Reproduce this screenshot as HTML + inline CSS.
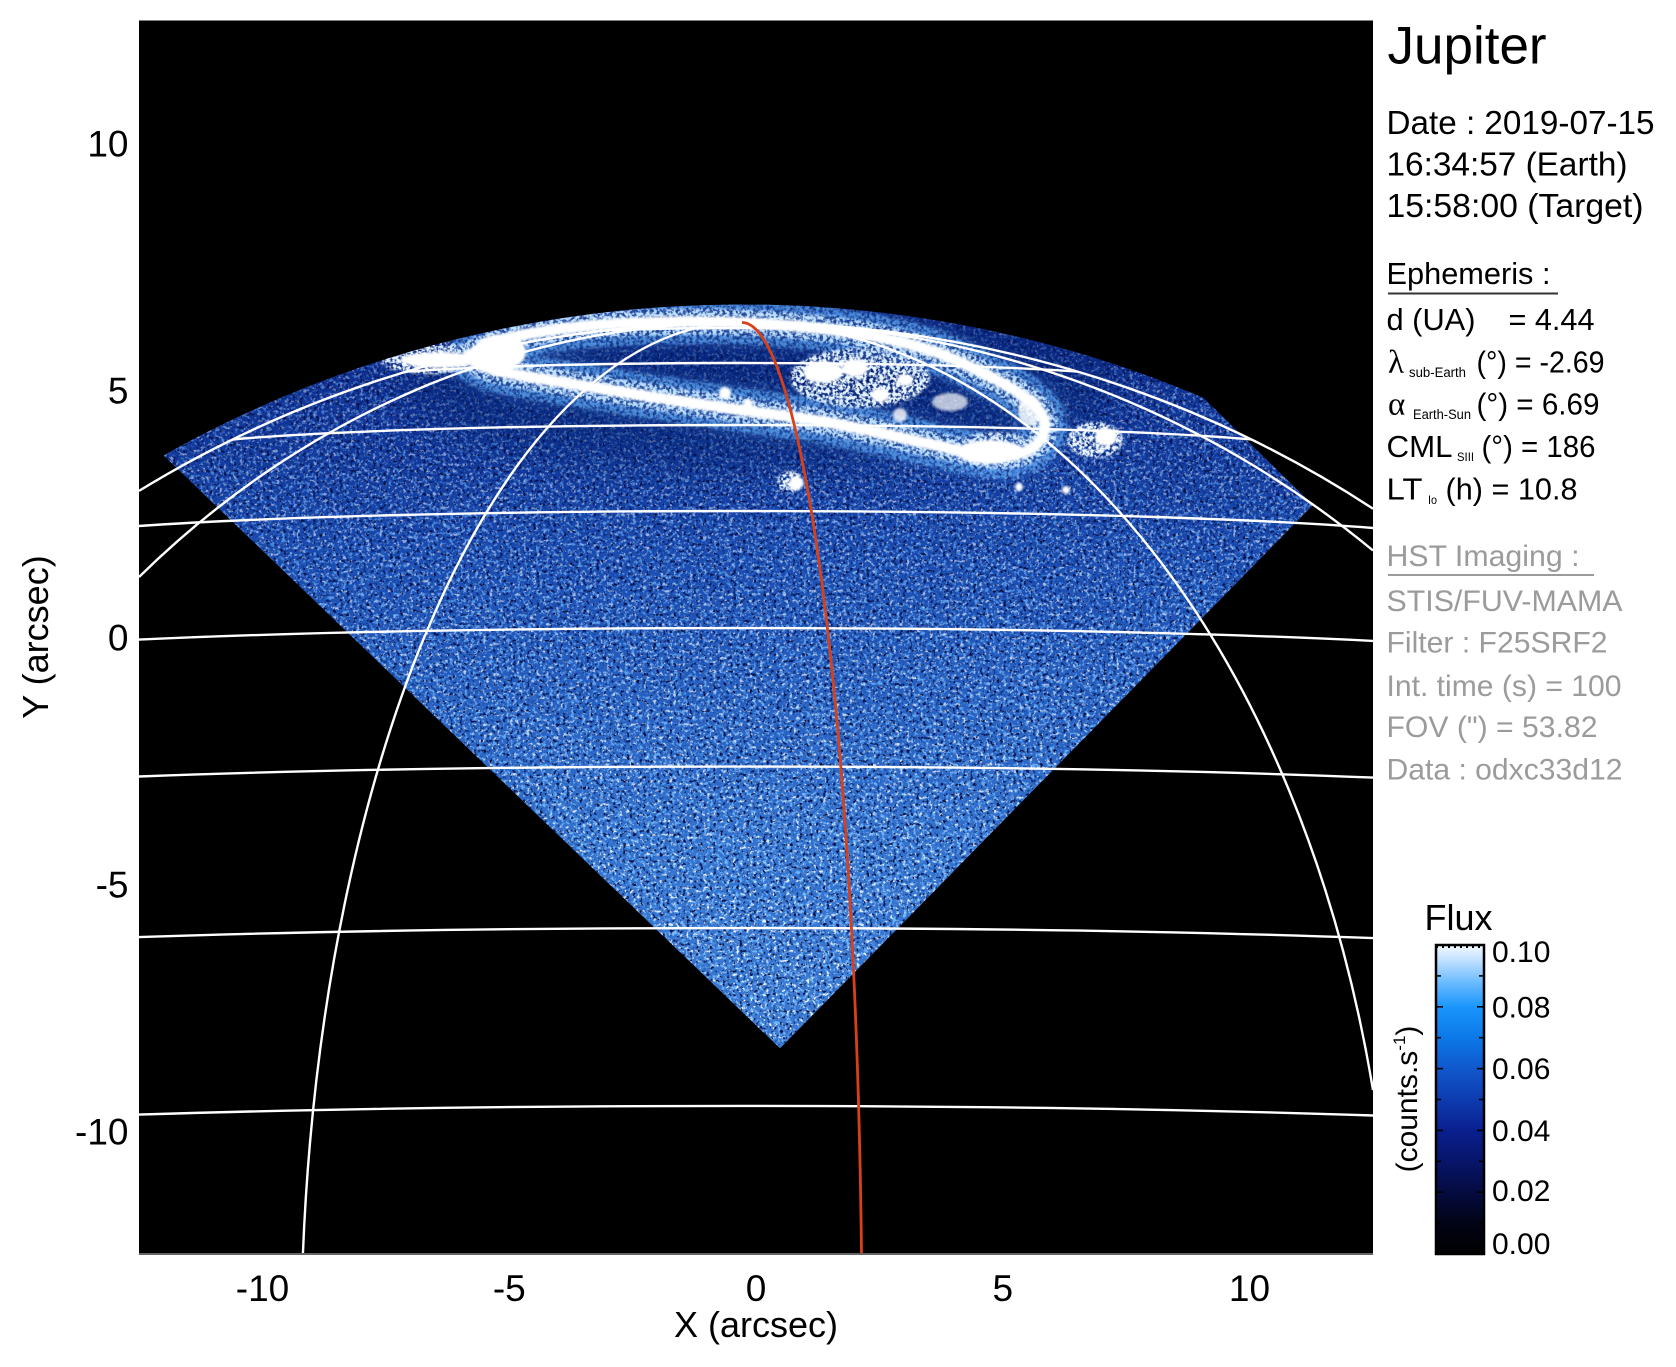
<!DOCTYPE html>
<html><head><meta charset="utf-8">
<style>
html,body{margin:0;padding:0;background:#fff;width:1676px;height:1367px;overflow:hidden;}
svg{display:block;}
text{font-family:"Liberation Sans",Arial,sans-serif;fill:#000;}
.g{fill:#9b9b9b;}
.s{font-family:"Liberation Serif",serif;}
</style></head><body>
<svg xmlns="http://www.w3.org/2000/svg" width="1676" height="1367" viewBox="0 0 1676 1367">
<defs>
<clipPath id="cpPlot"><rect x="139" y="20.5" width="1234" height="1234"/></clipPath>
<clipPath id="cpDisk"><path d="M139 469.8 A1117 1045 0 0 1 1373 487.2 L1373 1254 L139 1254 Z"/></clipPath>
<clipPath id="cpLimb"><path d="M139 490.9 A1099 1027 0 0 1 1373 508.7 L1373 1254 L139 1254 Z"/></clipPath>
<clipPath id="cpDia"><polygon points="780,1048.3 100,394.3 100,0 796.6,0 1313,505"/></clipPath>
<linearGradient id="wg" gradientUnits="userSpaceOnUse" x1="0" y1="300" x2="0" y2="1050">
 <stop offset="0" stop-color="#0a2688"/>
 <stop offset="0.213" stop-color="#123a9e"/>
 <stop offset="0.347" stop-color="#1a4cb2"/>
 <stop offset="0.533" stop-color="#2660c2"/>
 <stop offset="0.733" stop-color="#3373d0"/>
 <stop offset="1" stop-color="#3a7ad4"/>
</linearGradient>
<linearGradient id="mg" gradientUnits="userSpaceOnUse" x1="0" y1="300" x2="0" y2="1050">
 <stop offset="0" stop-color="#606060"/>
 <stop offset="0.47" stop-color="#b0b0b0"/>
 <stop offset="1" stop-color="#ffffff"/>
</linearGradient>
<mask id="mk" maskUnits="userSpaceOnUse" x="0" y="0" width="1676" height="1367">
 <rect x="0" y="0" width="1676" height="1250" fill="url(#mg)"/>
</mask>
<filter id="fW" filterUnits="userSpaceOnUse" x="139" y="290" width="1234" height="770" color-interpolation-filters="sRGB">
 <feTurbulence type="fractalNoise" baseFrequency="0.3" numOctaves="2" seed="11"/>
 <feColorMatrix type="matrix" values="0 0 0 0 1  0 0 0 0 1  0 0 0 0 1  6 0 0 0 -3.5"/>
</filter>
<filter id="fL" filterUnits="userSpaceOnUse" x="139" y="290" width="1234" height="770" color-interpolation-filters="sRGB">
 <feTurbulence type="fractalNoise" baseFrequency="0.28" numOctaves="2" seed="23"/>
 <feColorMatrix type="matrix" values="0 0 0 0 0.45  0 0 0 0 0.74  0 0 0 0 1  0 6 0 0 -3.2"/>
</filter>
<filter id="fD" filterUnits="userSpaceOnUse" x="139" y="290" width="1234" height="770" color-interpolation-filters="sRGB">
 <feTurbulence type="fractalNoise" baseFrequency="0.3" numOctaves="2" seed="5"/>
 <feColorMatrix type="matrix" values="0 0 0 0 0.02  0 0 0 0 0.07  0 0 0 0 0.3  0 0 6 0 -3.45"/>
</filter>
<filter id="fA" filterUnits="userSpaceOnUse" x="300" y="260" width="900" height="280" color-interpolation-filters="sRGB">
 <feTurbulence type="fractalNoise" baseFrequency="0.3" numOctaves="2" seed="31" result="n"/>
 <feColorMatrix in="n" type="matrix" values="0 0 0 0 0  0 0 0 0 0  0 0 0 0 0  5 0 0 0 -1.9" result="a"/>
 <feGaussianBlur in="SourceGraphic" stdDeviation="1.2" result="sb"/>
 <feComposite in="sb" in2="a" operator="in"/>
</filter>
<filter id="b1" x="-50%" y="-50%" width="200%" height="200%"><feGaussianBlur stdDeviation="1.3"/></filter>
<filter id="b3" x="-50%" y="-50%" width="200%" height="200%"><feGaussianBlur stdDeviation="3"/></filter>
<filter id="b8" x="-50%" y="-50%" width="200%" height="200%"><feGaussianBlur stdDeviation="7"/></filter>
<filter id="b20" x="-50%" y="-50%" width="200%" height="200%"><feGaussianBlur stdDeviation="20"/></filter>
<linearGradient id="cbg" x1="0" y1="1" x2="0" y2="0">
 <stop offset="0" stop-color="#000000"/>
 <stop offset="0.1" stop-color="#020416"/>
 <stop offset="0.2" stop-color="#050b40"/>
 <stop offset="0.3" stop-color="#07156a"/>
 <stop offset="0.4" stop-color="#0a1f8e"/>
 <stop offset="0.5" stop-color="#0d3cb0"/>
 <stop offset="0.6" stop-color="#1058cc"/>
 <stop offset="0.7" stop-color="#0c78e8"/>
 <stop offset="0.8" stop-color="#1a96fc"/>
 <stop offset="0.88" stop-color="#6cbcff"/>
 <stop offset="0.95" stop-color="#c0e0ff"/>
 <stop offset="1" stop-color="#f4faff"/>
</linearGradient>
<path id="oval" d="M470,355 C500,330 610,320 720,322 C820,324 910,338 960,362 C1010,385 1045,405 1045,425 C1045,450 1015,460 985,455 C930,446 870,428 800,418 C700,405 620,392 560,382 C510,374 470,368 470,355 Z"/>
</defs>

<!-- plot background -->
<rect x="139" y="20.5" width="1234" height="1234" fill="#000"/>

<!-- wedge of emission -->
<g clip-path="url(#cpPlot)">
 <g clip-path="url(#cpDisk)">
  <g clip-path="url(#cpDia)">
   <rect x="139" y="290" width="1234" height="770" fill="url(#wg)"/>
   <g mask="url(#mk)">
    <rect x="139" y="290" width="1234" height="770" filter="url(#fL)"/>
    <rect x="139" y="290" width="1234" height="770" filter="url(#fW)"/>
   </g>
   <rect x="139" y="290" width="1234" height="770" filter="url(#fD)"/>
   <!-- darker polar region -->
   <ellipse cx="760" cy="385" rx="360" ry="85" fill="#061a66" opacity="0.4" filter="url(#b20)"/>
   <!-- aurora glow (speckled) -->
   <g filter="url(#fA)">
    <use href="#oval" fill="none" stroke="#5aa8f5" stroke-width="44" opacity="0.7"/>
    <use href="#oval" fill="none" stroke="#e0f2ff" stroke-width="26" opacity="0.95"/>
    <g fill="#e8f5ff">
     <ellipse cx="430" cy="358" rx="52" ry="16"/>
     <ellipse cx="860" cy="378" rx="70" ry="30"/>
     <ellipse cx="995" cy="450" rx="42" ry="18"/>
     <ellipse cx="1095" cy="440" rx="28" ry="18"/>
     <ellipse cx="790" cy="482" rx="13" ry="11"/>
    </g>
   </g>
   <use href="#oval" fill="none" stroke="#6fb6ff" stroke-width="44" opacity="0.25" filter="url(#b8)"/>
   <!-- aurora core (solid) -->
   <g filter="url(#b1)">
    <use href="#oval" fill="none" stroke="#ffffff" stroke-width="11"/>
    <g fill="#ffffff">
     <ellipse cx="440" cy="360" rx="40" ry="8"/>
     <ellipse cx="500" cy="352" rx="26" ry="18"/>
     <ellipse cx="990" cy="452" rx="34" ry="12"/>
     <ellipse cx="823" cy="372" rx="20" ry="11"/>
     <ellipse cx="855" cy="368" rx="13" ry="9"/>
     <ellipse cx="880" cy="395" rx="9" ry="7"/>
     <ellipse cx="905" cy="380" rx="8" ry="6"/>
     <circle cx="725" cy="393" r="6"/>
     <circle cx="748" cy="404" r="5"/>
     <circle cx="796" cy="483" r="7"/>
     <ellipse cx="1106" cy="437" rx="11" ry="9"/>
     <circle cx="1019" cy="487" r="4"/>
     <circle cx="1066" cy="490" r="4"/>
     <ellipse cx="950" cy="402" rx="18" ry="9" opacity="0.7"/>
     <circle cx="900" cy="415" r="7" opacity="0.8"/>
     <ellipse cx="1030" cy="410" rx="12" ry="16" opacity="0.8"/>
    </g>
   </g>
  </g>
 </g>
</g>

<!-- grid lines -->
<g clip-path="url(#cpPlot)" fill="none" stroke="#ffffff" stroke-width="2.4">
 <g clip-path="url(#cpLimb)">
  <path d="M139 1114.6 A1081 50.8 0 0 1 1373 1115.5"/>
  <path d="M139 937.1 A1037 48.7 0 0 1 1373 938.1"/>
  <path d="M139 776.5 A964 45.3 0 0 1 1373 777.6"/>
  <path d="M139 639.6 A862 40.5 0 0 1 1373 640.9"/>
  <path d="M139 526 A731 34.4 0 0 1 1373 528"/>
  <path d="M167 452 A575 27 0 0 1 1317 452"/>
  <path d="M345 381.7 A397 18.7 0 0 1 1139 381.7"/>
  <path d="M539 337.5 A203 9.5 0 0 1 945 337.5"/>
 </g>
 <path d="M139 490.9 A1099 1027 0 0 1 1373 508.7"/>
 <path d="M742 322.5 A915 1027 0 0 0 139 577"/>
 <path d="M742 322.5 A441 1027 0 0 0 302.9 1254"/>
 <path d="M742 322.5 A652 1027 0 0 1 1373 1090"/>
 <path d="M742 322.5 A1004 1027 0 0 1 1373 550.5"/>
 <path d="M742 322.5 A120 1027 0 0 1 861.5 1254" stroke="#d8401a" stroke-width="2.8"/>
</g>
<line x1="139" y1="1254" x2="1373" y2="1254" stroke="#666" stroke-width="2"/>

<!-- axis tick labels -->
<g font-size="37" text-anchor="end">
 <text x="128.5" y="156.7">10</text>
 <text x="128.5" y="403.7">5</text>
 <text x="128.5" y="650.7">0</text>
 <text x="128.5" y="897.7">-5</text>
 <text x="128.5" y="1144.7">-10</text>
</g>
<g font-size="37" text-anchor="middle">
 <text x="262.5" y="1301">-10</text>
 <text x="509.3" y="1301">-5</text>
 <text x="756" y="1301">0</text>
 <text x="1002.8" y="1301">5</text>
 <text x="1249.5" y="1301">10</text>
</g>
<text x="756" y="1337" font-size="36" text-anchor="middle">X (arcsec)</text>
<text transform="translate(48,637) rotate(-90)" font-size="36" text-anchor="middle">Y (arcsec)</text>

<!-- right panel -->
<text x="1387.5" y="63.5" font-size="53">Jupiter</text>
<text x="1386.5" y="134" font-size="33" textLength="268" lengthAdjust="spacingAndGlyphs">Date : 2019-07-15</text>
<text x="1386.5" y="175.5" font-size="33" textLength="241" lengthAdjust="spacingAndGlyphs">16:34:57 (Earth)</text>
<text x="1386.5" y="217" font-size="33" textLength="257" lengthAdjust="spacingAndGlyphs">15:58:00 (Target)</text>

<text x="1386.5" y="284" font-size="31" textLength="164" lengthAdjust="spacingAndGlyphs">Ephemeris :</text>
<line x1="1388" y1="293.5" x2="1558" y2="293.5" stroke="#333" stroke-width="2"/>
<text x="1386.5" y="330" font-size="31" textLength="89" lengthAdjust="spacingAndGlyphs">d (UA)</text>
<text x="1508.5" y="330" font-size="31" textLength="86" lengthAdjust="spacingAndGlyphs">= 4.44</text>

<text x="1388" y="372.5" font-size="33" class="s">λ</text>
<text x="1409" y="377" font-size="13.5" textLength="57" lengthAdjust="spacingAndGlyphs">sub-Earth</text>
<text x="1476.5" y="372.5" font-size="31" textLength="128" lengthAdjust="spacingAndGlyphs">(°) = -2.69</text>

<text x="1388" y="414.5" font-size="33" class="s">α</text>
<text x="1413" y="419" font-size="13.5" textLength="58" lengthAdjust="spacingAndGlyphs">Earth-Sun</text>
<text x="1476.5" y="414.5" font-size="31" textLength="123" lengthAdjust="spacingAndGlyphs">(°) = 6.69</text>

<text x="1386.5" y="457" font-size="31" textLength="66" lengthAdjust="spacingAndGlyphs">CML</text>
<text x="1457" y="461" font-size="12" textLength="17" lengthAdjust="spacingAndGlyphs">SIII</text>
<text x="1481.5" y="457" font-size="31" textLength="114" lengthAdjust="spacingAndGlyphs">(°) = 186</text>

<text x="1386.5" y="499.5" font-size="31" textLength="36" lengthAdjust="spacingAndGlyphs">LT</text>
<text x="1428" y="504" font-size="12" textLength="9" lengthAdjust="spacingAndGlyphs">Io</text>
<text x="1445.5" y="499.5" font-size="31" textLength="132" lengthAdjust="spacingAndGlyphs">(h) = 10.8</text>

<text x="1386.5" y="566" font-size="30" class="g" textLength="193" lengthAdjust="spacingAndGlyphs">HST Imaging :</text>
<line x1="1388" y1="575" x2="1594" y2="575" stroke="#9b9b9b" stroke-width="2"/>
<text x="1386.5" y="611" font-size="30" class="g" textLength="236" lengthAdjust="spacingAndGlyphs">STIS/FUV-MAMA</text>
<text x="1386.5" y="652.5" font-size="30" class="g" textLength="221" lengthAdjust="spacingAndGlyphs">Filter : F25SRF2</text>
<text x="1386.5" y="696" font-size="30" class="g" textLength="235" lengthAdjust="spacingAndGlyphs">Int. time (s) = 100</text>
<text x="1386.5" y="737" font-size="30" class="g" textLength="211" lengthAdjust="spacingAndGlyphs">FOV (") = 53.82</text>
<text x="1386.5" y="779.5" font-size="30" class="g" textLength="236" lengthAdjust="spacingAndGlyphs">Data : odxc33d12</text>

<!-- colorbar -->
<text x="1424.5" y="930" font-size="36">Flux</text>
<rect x="1436" y="945" width="48" height="309" fill="url(#cbg)"/>
<g stroke="#000" stroke-width="1.6">
 <line x1="1436" y1="1223.1" x2="1441" y2="1223.1"/><line x1="1479" y1="1223.1" x2="1484" y2="1223.1"/>
 <line x1="1436" y1="1192.2" x2="1443" y2="1192.2"/><line x1="1477" y1="1192.2" x2="1484" y2="1192.2"/>
 <line x1="1436" y1="1161.3" x2="1441" y2="1161.3"/><line x1="1479" y1="1161.3" x2="1484" y2="1161.3"/>
 <line x1="1436" y1="1130.4" x2="1443" y2="1130.4"/><line x1="1477" y1="1130.4" x2="1484" y2="1130.4"/>
 <line x1="1436" y1="1099.5" x2="1441" y2="1099.5"/><line x1="1479" y1="1099.5" x2="1484" y2="1099.5"/>
 <line x1="1436" y1="1068.6" x2="1443" y2="1068.6"/><line x1="1477" y1="1068.6" x2="1484" y2="1068.6"/>
 <line x1="1436" y1="1037.7" x2="1441" y2="1037.7"/><line x1="1479" y1="1037.7" x2="1484" y2="1037.7"/>
 <line x1="1436" y1="1006.8" x2="1443" y2="1006.8"/><line x1="1477" y1="1006.8" x2="1484" y2="1006.8"/>
 <line x1="1436" y1="975.9" x2="1441" y2="975.9"/><line x1="1479" y1="975.9" x2="1484" y2="975.9"/>
</g>
<rect x="1436" y="945" width="48" height="309" fill="none" stroke="#000" stroke-width="2.5"/>
<line x1="1436" y1="946.5" x2="1484" y2="946.5" stroke="#000" stroke-width="3" stroke-dasharray="2 4"/>
<g font-size="30">
 <text x="1492" y="962">0.10</text>
 <text x="1492" y="1017.5">0.08</text>
 <text x="1492" y="1079">0.06</text>
 <text x="1492" y="1141">0.04</text>
 <text x="1492" y="1201">0.02</text>
 <text x="1492" y="1254">0.00</text>
</g>
<text transform="translate(1417,1099) rotate(-90)" font-size="30" text-anchor="middle">(counts.s<tspan font-size="17" dy="-12">-1</tspan><tspan dy="12">)</tspan></text>
</svg>
</body></html>
